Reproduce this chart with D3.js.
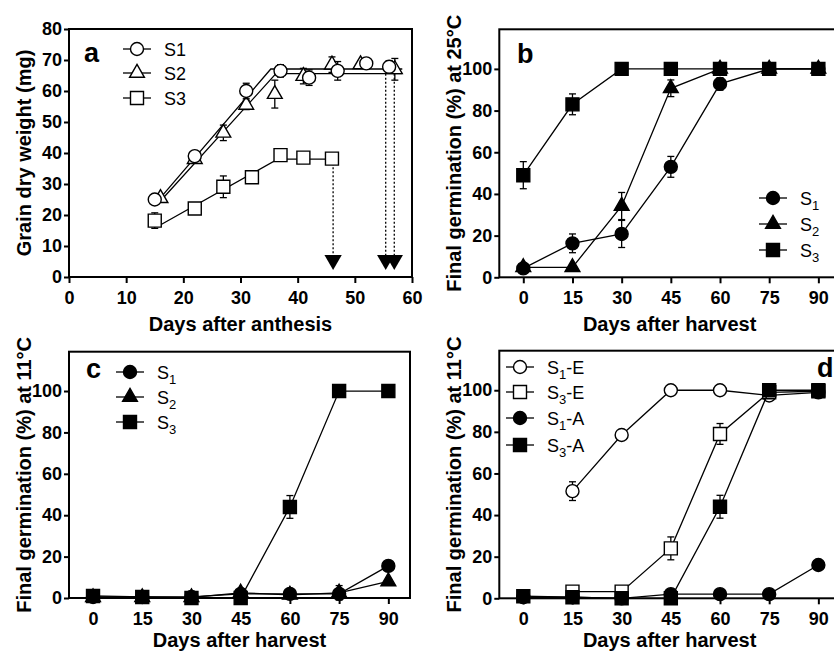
<!DOCTYPE html>
<html><head><meta charset="utf-8">
<script src="https://cdn.jsdelivr.net/npm/d3@7"></script>
<style>
body{margin:0;background:#fff;}
text{font-family:"Liberation Sans",Arial,sans-serif;}
</style></head>
<body><svg id="c" width="834" height="653"></svg>
<script>
// ---------- Panel a data ----------
const aS1x = [15,22,31,37,42,47,52,56];
const aS1y = [25,39,60,66.5,64.3,66.5,68.9,67.8];
const aS1e = [1,1,2.5,2,2.5,3,0.5,2];
const aS2x = [16,22,27,31,36,41,46,51,57];
const aS2y = [25.4,38,46.5,55.5,59,64.8,68.5,68.6,67];
const aS2e = [0.5,1,2.5,1.5,4.5,2.5,2.5,1,3.5];
const aS3x = [15,22,27,32,37,41,46];
const aS3y = [18.2,22.1,29.1,32.2,39.3,38.5,38.2];
const aS3e = [2.5,1,3.5,1,1,0.5,0.5];
const fitS1 = [[15.5,24.5],[35.3,67.1],[58.3,67.1]];
const fitS2 = [[16,24.5],[36.2,65.6],[58.3,65.6]];
const fitS3 = [[15.5,16.3],[36.5,38],[46.5,38]];
const dropX = [46.2,55.4,56.9];
const dropFrom = [38,65.6,65.6];
const arrowY = 5.5;
const aXTicks = [0,10,20,30,40,50,60];
const aYTicks = [0,10,20,30,40,50,60,70,80];
// ---------- Panels b, c, d data ----------
const days = [0,15,30,45,60,75,90];
const gTicks = [0,20,40,60,80,100];
const bS1 = [4.3,16.3,20.8,53,92.8,100,100];
const bS1e = [1,4.5,6.5,5,3,0,0];
const bS2 = [4.8,4.8,34.2,90.7,100,100,100];
const bS2e = [1,0,6.5,4,0,0,0];
const bS3 = [49,83,100,100,100,100,100];
const bS3e = [6.5,5,0,0,0,0,0];
const cS1 = [0.5,0.5,0.5,2,2,2,15.5];
const cS1e = [0,0,0,0.5,0,0,0];
const cS2 = [0.3,0.3,0.3,2.5,1.5,2.5,8];
const cS2e = [0,0,0,0,0,3.5,0];
const cS3 = [1,0.5,0,0,44,100,100];
const cS3e = [0,0,0,0,5.5,0,0];
const dDaysE = [15,30,45,60,75,90];
const dS1E = [51.5,78.5,100,100,97.5,99];
const dS1Ee = [4.5,1.5,0,0,1,1];
const dS3E = [3.2,3.2,24,79,99,99.5];
const dS3Ee = [0,0,5.5,5,0,0];
const dS1A = [0.5,0.5,0,2,2,2,16];
const dS1Ae = [0,0,0,0,0,0,0];
const dS3A = [1,0.5,0,0,44,100,100];
const dS3Ae = [0,0,0,0,5.5,0,0];

const svg = d3.select("#c");
const sym = {
  circle: d3.symbol().type(d3.symbolCircle).size(Math.PI*6.5*6.5),
  square: d3.symbol().type(d3.symbolSquare).size(13*13),
  triangle: d3.symbol().type(d3.symbolTriangle).size(95)
};
const TICKF = 18, TITLEF = 20;

function frame(x, y, tx, ty, yTicks, xTicks) {
  const g = svg.append("g");
  const [x0,x1] = x.range(), [y0,y1] = y.range();
  const ax = g.append("g").attr("transform",`translate(0,${y0})`)
    .call(d3.axisBottom(x).tickValues(xTicks).tickSize(6).tickPadding(8).tickFormat(d3.format("d")));
  const ay = g.append("g").attr("transform",`translate(${x0},0)`)
    .call(d3.axisLeft(y).tickValues(yTicks).tickSize(5).tickPadding(2).tickFormat(d3.format("d")));
  [ax,ay].forEach(a=>{
    a.select(".domain").remove();
    a.selectAll("line").attr("stroke","#000").attr("stroke-width",2);
    a.selectAll("text").attr("font-size",TICKF).attr("font-weight","bold").attr("fill","#000")
      .style("font-family","'Liberation Sans',Arial,sans-serif");
  });
  g.append("rect").attr("x",x0).attr("y",y1).attr("width",x1-x0).attr("height",y0-y1)
    .attr("fill","none").attr("stroke","#000").attr("stroke-width",2);
  g.append("text").attr("x",(x0+x1)/2).attr("y",tx.y).attr("text-anchor","middle")
    .attr("font-size",TITLEF).attr("font-weight","bold").text(tx.t);
  g.append("text").attr("transform",`translate(${x0-38},${(y0+y1)/2}) rotate(-90)`)
    .attr("text-anchor","middle").attr("font-size",TITLEF).attr("font-weight","bold").text(ty);
  return g;
}

function series(g, x, y, xs, ys, es, shape, open, lineOn=true) {
  const pts = xs.map((d,i)=>[d, ys[i], es ? es[i] : 0]);
  if (lineOn) g.append("path").attr("d", d3.line().x(d=>x(d[0])).y(d=>y(d[1]))(pts))
    .attr("fill","none").attr("stroke","#000").attr("stroke-width",1.3);
  const eb = g.append("g").attr("stroke","#000").attr("stroke-width",1.3);
  pts.filter(d=>d[2]>0).forEach(d=>{
    const cx = x(d[0]), ya = y(d[1]+d[2]), yb = y(d[1]-d[2]);
    eb.append("line").attr("x1",cx).attr("x2",cx).attr("y1",ya).attr("y2",yb);
    eb.append("line").attr("x1",cx-3.5).attr("x2",cx+3.5).attr("y1",ya).attr("y2",ya);
    eb.append("line").attr("x1",cx-3.5).attr("x2",cx+3.5).attr("y1",yb).attr("y2",yb);
  });
  g.selectAll(null).data(pts).enter().append("path")
    .attr("d", sym[shape]).attr("transform", d=>`translate(${x(d[0])},${y(d[1])})`)
    .attr("fill", open ? "#fff" : "#000").attr("stroke","#000").attr("stroke-width",1.4);
}

function legendItem(g, lx, ly, shape, open, main, sub, rest, fs) {
  g.append("line").attr("x1",lx-14).attr("x2",lx+14).attr("y1",ly).attr("y2",ly)
    .attr("stroke","#000").attr("stroke-width",1.3);
  g.append("path").attr("d", sym[shape]).attr("transform",`translate(${lx},${ly})`)
    .attr("fill", open ? "#fff" : "#000").attr("stroke","#000").attr("stroke-width",1.4);
  const t = g.append("text").attr("x",lx+27).attr("y",ly+6.5).attr("font-size",fs||18);
  t.append("tspan").text(main);
  if (sub) t.append("tspan").attr("font-size",13).attr("dy",5).text(sub);
  if (rest) t.append("tspan").attr("dy",sub?-5:0).text(rest);
}

function panelLabel(g, x, y, t) {
  g.append("text").attr("x",x).attr("y",y).attr("font-size",27).attr("font-weight","bold").text(t);
}

// ---------- Panel a ----------
{
  const x = d3.scaleLinear().domain([0,60]).range([69,412]);
  const y = d3.scaleLinear().domain([0,80]).range([277,29]);
  const g = frame(x,y,{y:331,t:"Days after anthesis"},"Grain dry weight (mg)",aYTicks,aXTicks);
  const ln = d3.line().x(d=>x(d[0])).y(d=>y(d[1]));
  [fitS1,fitS2,fitS3].forEach(f=>g.append("path").attr("d",ln(f)).attr("fill","none")
    .attr("stroke","#000").attr("stroke-width",1.3));
  const tri = d3.symbol().type(d3.symbolTriangle).size(130);
  dropX.forEach((dx,i)=>{
    g.append("line").attr("x1",x(dx)).attr("x2",x(dx)).attr("y1",y(dropFrom[i])).attr("y2",y(arrowY))
      .attr("stroke","#000").attr("stroke-width",1.3).attr("stroke-dasharray","2,2");
    g.append("path").attr("d",tri).attr("transform",`translate(${x(dx)},${y(arrowY)}) rotate(180)`)
      .attr("fill","#000");
  });
  series(g,x,y,aS3x,aS3y,aS3e,"square",true,false);
  series(g,x,y,aS2x,aS2y,aS2e,"triangle",true,false);
  series(g,x,y,aS1x,aS1y,aS1e,"circle",true,false);
  panelLabel(g,84,62,"a");
  legendItem(g,137,49,"circle",true,"S1");
  legendItem(g,137,73,"triangle",true,"S2");
  legendItem(g,137,98,"square",true,"S3");
}
// ---------- Panel b ----------
{
  const x = d3.scaleLinear().domain([-7.32,96.6]).range([499.3,840]);
  const y = d3.scaleLinear().domain([0,119]).range([277.3,29.3]);
  const g = frame(x,y,{y:331,t:"Days after harvest"},"Final germination (%) at 25°C",gTicks,days);
  series(g,x,y,days,bS1,bS1e,"circle",false);
  series(g,x,y,days,bS2,bS2e,"triangle",false);
  series(g,x,y,days,bS3,bS3e,"square",false);
  panelLabel(g,517,63,"b");
  legendItem(g,773,198,"circle",false,"S","1");
  legendItem(g,773,224,"triangle",false,"S","2");
  legendItem(g,773,250,"square",false,"S","3");
}
// ---------- Panel c ----------
{
  const x = d3.scaleLinear().domain([-7.32,96.6]).range([69,410]);
  const y = d3.scaleLinear().domain([0,119]).range([598,351.7]);
  const g = frame(x,y,{y:647,t:"Days after harvest"},"Final germination (%) at 11°C",gTicks,days);
  series(g,x,y,days,cS2,cS2e,"triangle",false);
  series(g,x,y,days,cS1,cS1e,"circle",false);
  series(g,x,y,days,cS3,cS3e,"square",false);
  panelLabel(g,86,378,"c");
  legendItem(g,130,372,"circle",false,"S","1");
  legendItem(g,130,397,"triangle",false,"S","2");
  legendItem(g,130,422,"square",false,"S","3");
}
// ---------- Panel d ----------
{
  const x = d3.scaleLinear().domain([-7.32,96.6]).range([499.3,840]);
  const y = d3.scaleLinear().domain([0,119]).range([598.3,350.7]);
  const g = frame(x,y,{y:647,t:"Days after harvest"},"Final germination (%) at 11°C",gTicks,days);
  series(g,x,y,dDaysE,dS1E,dS1Ee,"circle",true);
  series(g,x,y,dDaysE,dS3E,dS3Ee,"square",true);
  series(g,x,y,days,dS1A,dS1Ae,"circle",false);
  series(g,x,y,days,dS3A,dS3Ae,"square",false);
  panelLabel(g,817,377,"d");
  legendItem(g,520,367,"circle",true,"S","1","-E");
  legendItem(g,520,392,"square",true,"S","3","-E");
  legendItem(g,520,418,"circle",false,"S","1","-A");
  legendItem(g,520,445,"square",false,"S","3","-A");
}
</script></body></html>
